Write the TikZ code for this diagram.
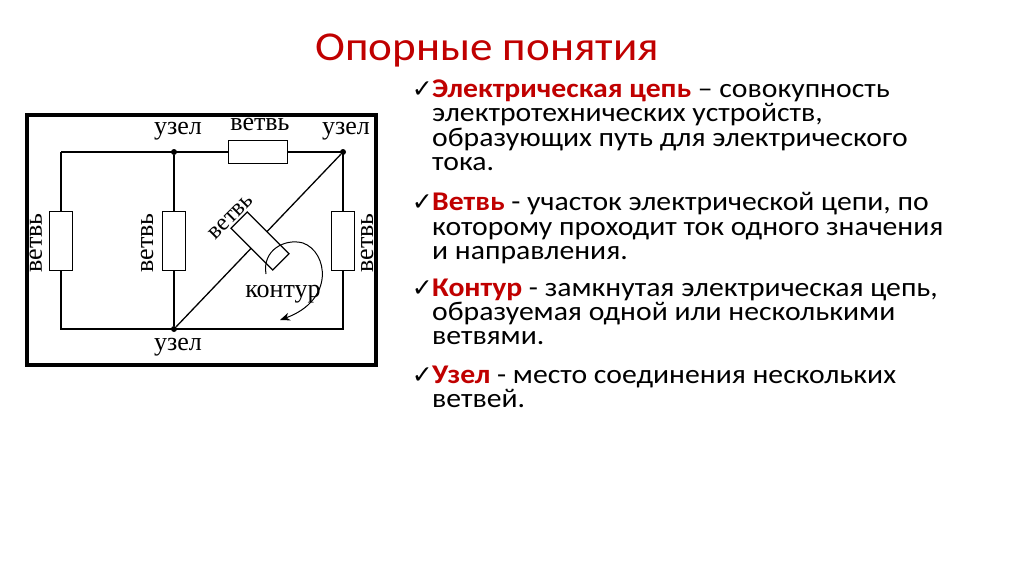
\documentclass[tikz,border=0pt]{standalone}
\usepackage{fontspec}
\setmainfont{Carlito}[FakeStretch=1.1]
\newfontfamily\tms{Liberation Serif}
\newfontfamily\djv{DejaVu Sans}
\usetikzlibrary{arrows.meta}
\definecolor{tred}{RGB}{192,0,0}
\begin{document}
\begin{tikzpicture}[x=1pt,y=-1pt,
  wire/.style={line width=1.3pt},
  res/.style={draw,line width=1.3pt,fill=white,minimum width=23pt,minimum height=59pt,inner sep=0pt},
  lbl/.style={font=\tms\fontsize{26}{26}\selectfont,inner sep=0pt},
  dot/.style={circle,fill,inner sep=0pt,minimum size=6pt},
  txt/.style={anchor=base west,inner sep=0pt,font=\fontsize{27}{27}\selectfont},
  chk/.style={anchor=base east,inner sep=0pt,font=\djv\fontsize{25}{25}\selectfont}]
\useasboundingbox (0,0) rectangle (1024,574);
\node[font=\fontsize{41}{41}\selectfont,text=tred] (title) at (487,50) {Опорные понятия};
% circuit
\draw[line width=4pt] (27,115) rectangle (376,365);
\coordinate (tl) at (61,152); \coordinate (bl) at (61,329);
\node[dot] (n1) at (174,152) {}; \node[dot] (n2) at (343,152) {};
\node[dot] (n3) at (174,329) {}; \coordinate (br) at (343,329);
\draw[wire] (tl) -- (n2.center) -- (br) -- (n3.center) -- (bl) -- (tl);
\draw[wire] (n1) -- (n3);
\draw[wire] (n3) -- (n2);
\node[res] (r1) at (61,241) {};
\node[res] (r2) at (174,241) {};
\node[res] (r3) at (343,241) {};
\node[res,rotate=90] (r4) at (258,152) {};
\node[res,rotate=45] (r5) at (260,241) {};
\node[lbl] (u1) at (178,131) {узел};
\node[lbl] (u2) at (346,131) {узел};
\node[lbl] (u3) at (178,347) {узел};
\node[lbl] (b1) at (260,124) {ветвь};
\node[lbl,rotate=90] (b2) at (36,243) {ветвь};
\node[lbl,rotate=90] (b3) at (147,243) {ветвь};
\node[lbl,rotate=90] (b4) at (367,243) {ветвь};
\node[lbl,font=\tms\fontsize{24}{24}\selectfont,rotate=45] (b5) at (231,217) {ветвь};
\node[lbl] (k) at (283,294) {контур};
\coordinate (a0) at (266,274);
\coordinate (a1) at (280,320);
\draw[line width=1pt,-{Stealth[length=10pt,width=8pt]}] (a0) .. controls (262,250) and (285,238) .. (303,243) .. controls (328,252) and (335,300) .. (a1);
% text
\node[chk] (c1) at (433,97) {✓};
\node[txt] (t1) at (432,97) {\textcolor{tred}{\textbf{Электрическая цепь}} – совокупность};
\node[txt] (t2) at (432,121) {электротехнических устройств,};
\node[txt] (t3) at (432,146) {образующих путь для электрического};
\node[txt] (t4) at (432,170) {тока.};
\node[chk] (c2) at (433,210) {✓};
\node[txt] (t5) at (432,210) {\textcolor{tred}{\textbf{Ветвь}} - участок электрической цепи, по};
\node[txt] (t6) at (432,235) {которому проходит ток одного значения};
\node[txt] (t7) at (432,259) {и направления.};
\node[chk] (c3) at (433,296) {✓};
\node[txt] (t8) at (432,296) {\textcolor{tred}{\textbf{Контур}} - замкнутая электрическая цепь,};
\node[txt] (t9) at (432,320) {образуемая одной или несколькими};
\node[txt] (t10) at (432,344) {ветвями.};
\node[chk] (c4) at (433,383) {✓};
\node[txt] (t11) at (432,383) {\textcolor{tred}{\textbf{Узел}} - место соединения нескольких};
\node[txt] (t12) at (432,407) {ветвей.};
\end{tikzpicture}
\end{document}
